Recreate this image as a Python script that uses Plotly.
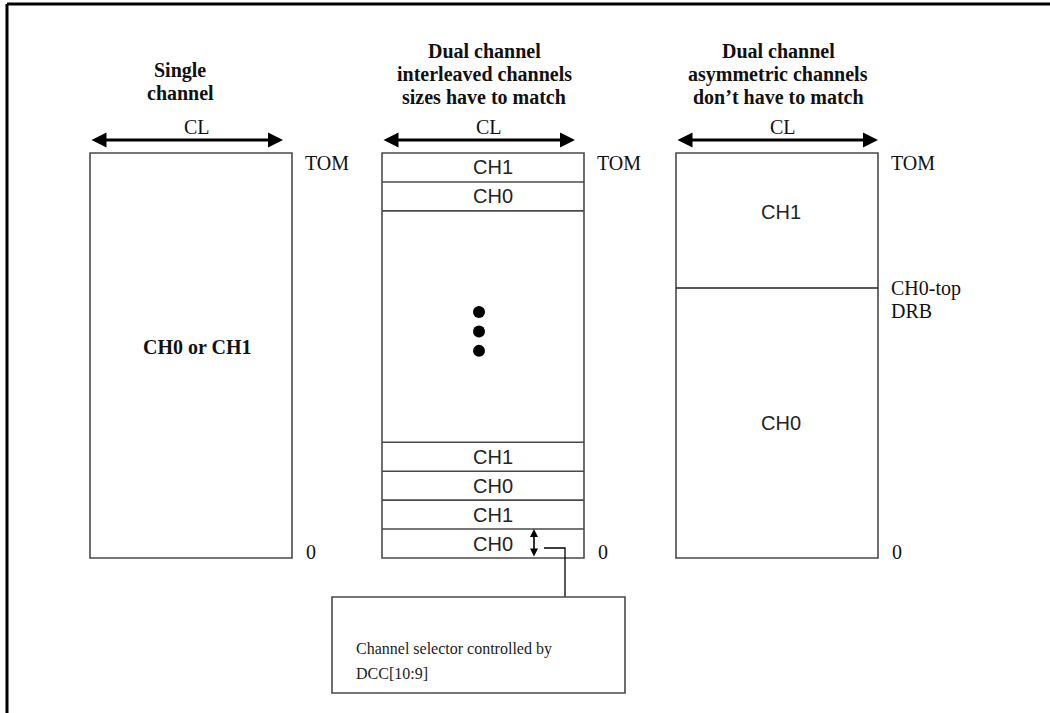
import plotly.graph_objects as go

# memory map contents (address axis counts in row-sized granules, 0 at bottom)
n_granules = 14
single_label = "CH0 or CH1"
interleaved_top = ["CH1", "CH0"]          # rows just below TOM
interleaved_bottom = ["CH1", "CH0", "CH1", "CH0"]  # rows up from address 0
asym_labels = ["CH0", "CH1"]              # bottom to top
asym_share = [2, 1]                       # relative channel sizes
titles = [
    ["Single", "channel"],
    ["Dual channel", "interleaved channels", "sizes have to match"],
    ["Dual channel", "asymmetric channels", "don\u2019t have to match"],
]
callout_lines = ["Channel selector controlled by", "DCC[10:9]"]

# page geometry (pixels)
W, H = 1050, 713
TOP_PX, BOT_PX = 153, 558
COL_LEFT = [90, 382, 676]
COL_W = 202
TITLE_SHIFT = [-11, 1, 1]
unit = (BOT_PX - TOP_PX) / n_granules


def to_y(px):
    """pixel row -> address units"""
    return (BOT_PX - px) / unit


SERIF = "Liberation Serif, Times New Roman, serif"
SANS = "Liberation Sans, Arial, sans-serif"
BOX_LINE = dict(color="#4a4a4a", width=1.6)

fig = go.Figure()
shapes = []
ann = []

# outer frame (top and left edges only)
shapes.append(dict(type="line", xref="x", yref="y", x0=7, x1=W + 5, y0=to_y(4), y1=to_y(4),
                   line=dict(color="black", width=3)))
shapes.append(dict(type="line", xref="x", yref="y", x0=7, x1=7, y0=to_y(4), y1=to_y(H + 5),
                   line=dict(color="black", width=3)))

for i, left in enumerate(COL_LEFT):
    right = left + COL_W
    shapes.append(dict(type="rect", xref="x", yref="y", x0=left, x1=right, y0=0, y1=n_granules,
                       line=BOX_LINE, fillcolor="rgba(0,0,0,0)"))
    # titles
    nl = len(titles[i])
    base = 51 if nl == 3 else 70
    for j, t in enumerate(titles[i]):
        ann.append(dict(x=left + COL_W / 2 + TITLE_SHIFT[i], y=to_y(base + 23 * j),
                        text="<b>%s</b>" % t, showarrow=False,
                        font=dict(family=SERIF, size=20, color="#111")))
    # CL arrow
    arr_end = right - 9 if i < 2 else right
    ann.append(dict(x=arr_end, y=to_y(140), ax=left, ay=to_y(140), xref="x", yref="y",
                    axref="x", ayref="y", text="", showarrow=True, arrowhead=2, arrowsize=1,
                    arrowwidth=3, arrowside="end+start", arrowcolor="black"))
    ann.append(dict(x=left + COL_W / 2 + 6, y=to_y(127), text="CL", showarrow=False,
                    font=dict(family=SERIF, size=20, color="#111")))
    # TOM / 0 labels
    ann.append(dict(x=right + 11, y=to_y(163), text="TOM", showarrow=False, xanchor="left",
                    font=dict(family=SERIF, size=20, color="#111")))
    ann.append(dict(x=right + 12, y=to_y(552), text="0", showarrow=False, xanchor="left",
                    font=dict(family=SERIF, size=20, color="#111")))

# single channel
ann.append(dict(x=COL_LEFT[0] + COL_W / 2 + 6, y=to_y(347), text="<b>%s</b>" % single_label,
                showarrow=False, font=dict(family=SERIF, size=20, color="#111")))

# interleaved
l2 = COL_LEFT[1]
for k, lab in enumerate(interleaved_top):
    y_lo = n_granules - (k + 1)
    shapes.append(dict(type="line", xref="x", yref="y", x0=l2, x1=l2 + COL_W, y0=y_lo, y1=y_lo,
                       line=BOX_LINE))
    ann.append(dict(x=l2 + COL_W / 2 + 10, y=y_lo + 0.5, text=lab, showarrow=False,
                    font=dict(family=SANS, size=20, color="#222")))
for k, lab in enumerate(interleaved_bottom):
    y_hi = len(interleaved_bottom) - k
    shapes.append(dict(type="line", xref="x", yref="y", x0=l2, x1=l2 + COL_W, y0=y_hi, y1=y_hi,
                       line=BOX_LINE))
    ann.append(dict(x=l2 + COL_W / 2 + 10, y=y_hi - 0.5, text=lab, showarrow=False,
                    font=dict(family=SANS, size=20, color="#222")))

# ellipsis dots in the hidden middle
gap_mid = (len(interleaved_bottom) + n_granules - len(interleaved_top)) / 2 - 0.17
fig.add_trace(go.Scatter(x=[479, 479, 479], y=[gap_mid + 0.67, gap_mid, gap_mid - 0.67],
                         mode="markers", marker=dict(size=12, color="black"),
                         hoverinfo="skip", showlegend=False))

# channel selector arrow + callout
ann.append(dict(x=534, y=1, ax=534, ay=0, xref="x", yref="y", axref="x", ayref="y", text="",
                showarrow=True, arrowhead=2, arrowsize=1, arrowwidth=1.6,
                arrowside="end+start", arrowcolor="black"))
shapes.append(dict(type="path", xref="x", yref="y",
                   path="M 544,%f L 565,%f L 565,%f" % (to_y(548), to_y(548), to_y(597)),
                   line=dict(color="black", width=1.3)))
shapes.append(dict(type="rect", xref="x", yref="y", x0=332, x1=625, y0=to_y(597), y1=to_y(693),
                   line=BOX_LINE, fillcolor="rgba(0,0,0,0)"))
for j, t in enumerate(callout_lines):
    ann.append(dict(x=354, y=to_y(649 + 24 * j), text=t, showarrow=False, xanchor="left",
                    font=dict(family=SERIF, size=16, color="#222")))

# asymmetric
l3 = COL_LEFT[2]
split = n_granules * asym_share[0] / sum(asym_share)
shapes.append(dict(type="line", xref="x", yref="y", x0=l3, x1=l3 + COL_W, y0=split, y1=split,
                   line=dict(color="#222", width=1.6)))
ann.append(dict(x=l3 + COL_W / 2 + 4, y=split / 2, text=asym_labels[0], showarrow=False,
                font=dict(family=SANS, size=20, color="#222")))
ann.append(dict(x=l3 + COL_W / 2 + 4, y=(split + n_granules) / 2 + 0.3, text=asym_labels[1],
                showarrow=False, font=dict(family=SANS, size=20, color="#222")))
ann.append(dict(x=l3 + COL_W + 11, y=split, text="CH0-top", showarrow=False, xanchor="left",
                font=dict(family=SERIF, size=20, color="#111")))
ann.append(dict(x=l3 + COL_W + 11, y=to_y(311), text="DRB", showarrow=False, xanchor="left",
                font=dict(family=SERIF, size=20, color="#111")))

fig.update_layout(
    width=W, height=H,
    margin=dict(l=0, r=0, t=0, b=0),
    plot_bgcolor="white", paper_bgcolor="white",
    xaxis=dict(range=[0, W], visible=False, fixedrange=True),
    yaxis=dict(range=[to_y(H), to_y(0)], visible=False, fixedrange=True),
    shapes=shapes, annotations=ann, showlegend=False,
)

fig.write_html("out.html", config={"displayModeBar": False},
               post_script="document.body.style.margin='0';document.body.style.overflow='hidden';")
